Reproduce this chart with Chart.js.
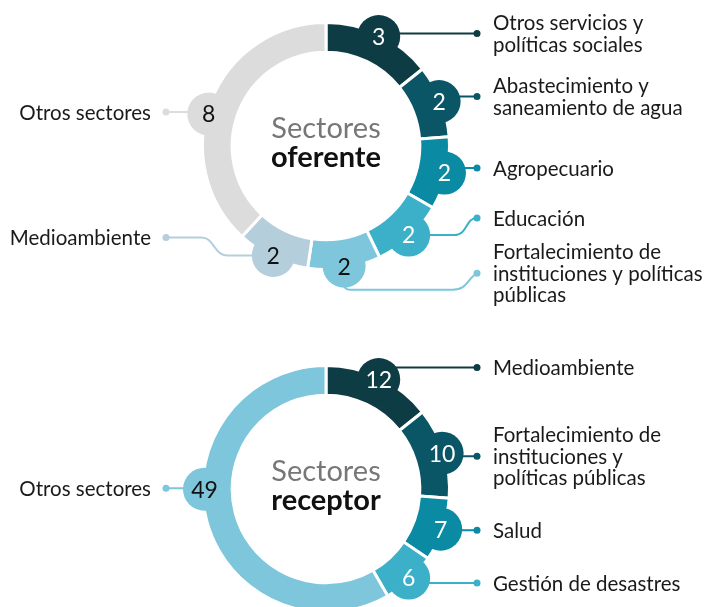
<!DOCTYPE html>
<html>
<head>
<meta charset="utf-8">
<script src="https://cdn.jsdelivr.net/npm/chart.js@4.4.0/dist/chart.umd.min.js"></script>
<style>
    html, body { margin: 0; padding: 0; background: #fff; overflow: hidden; }
    #wrap { position: relative; width: 709px; height: 607px; overflow: hidden; }
    #wrap canvas { position: absolute; left: 0; }
    #topChart { top: 0; }
    #bottomChart { top: 310px; }
</style>
</head>
<body>
<div id="wrap">
    <canvas id="topChart" width="709" height="310"></canvas>
    <canvas id="bottomChart" width="709" height="320"></canvas>
</div>
<script>
// Sectores oferente (clockwise from the top)
const offerSectors = [
    ['Otros servicios y', 'políticas sociales'],
    ['Abastecimiento y', 'saneamiento de agua'],
    ['Agropecuario'],
    ['Educación'],
    ['Fortalecimiento de', 'instituciones y políticas', 'públicas'],
    ['Medioambiente'],
    ['Otros sectores']
];
const offerValues = [3, 2, 2, 2, 2, 2, 8];

// Sectores receptor
const receiverSectors = [
    ['Medioambiente'],
    ['Fortalecimiento de', 'instituciones y', 'políticas públicas'],
    ['Salud'],
    ['Gestión de desastres'],
    ['Otros sectores']
];
const receiverValues = [12, 10, 7, 6, 49];

const offerColors = ['#0d3c44', '#0a5667', '#0a8aa3', '#3cafc9', '#7ec6db', '#b4cfdb', '#dcdcdc'];
const offerTextColors = ['#fff', '#fff', '#fff', '#fff', '#111', '#111', '#111'];
const receiverColors = ['#0d3c44', '#0a5667', '#0a8aa3', '#3cafc9', '#7ec6db'];
const receiverTextColors = ['#fff', '#fff', '#fff', '#fff', '#111'];

const FONT = 'Lato, "Open Sans", sans-serif';
const DOT_RIGHT = 477, DOT_LEFT = 166;
const TEXT_RIGHT = 493, TEXT_LEFT = 151;
const BUBBLE_R = 21.5;

// Bubbles with values, leader lines and sector names around the ring
const bubblePlugin = {
    id: 'bubbles',
    afterDatasetsDraw(chart, args, opts) {
        const ctx = chart.ctx;
        const meta = chart.getDatasetMeta(0);
        const ds = chart.data.datasets[0];
        const items = meta.data.map((arc, i) => {
            const p = arc.getProps(['x', 'y', 'startAngle', 'endAngle', 'outerRadius'], true);
            const a = p.startAngle + (p.endAngle - p.startAngle) * opts.anchor[i];
            const r = p.outerRadius - 2;
            const bx = p.x + Math.cos(a) * r;
            const by = p.y + Math.sin(a) * r;
            const right = bx > p.x;
            return {
                bx, by, right,
                dotX: right ? DOT_RIGHT : DOT_LEFT,
                dotY: by + opts.shift[i],
                route: opts.route[i],
                color: ds.backgroundColor[i]
            };
        });

        // leader lines
        ctx.save();
        ctx.lineWidth = 2;
        items.forEach(it => {
            ctx.strokeStyle = it.color;
            ctx.fillStyle = it.color;
            ctx.beginPath();
            const dir = it.right ? 1 : -1;
            if (it.route === 'bend') {
                const x0 = it.bx + dir * (BUBBLE_R + 24);
                let x1 = x0 + dir * 26;
                if (dir * (x1 - it.dotX) > 0) x1 = it.dotX;
                ctx.moveTo(it.bx, it.by);
                ctx.lineTo(x0, it.by);
                ctx.bezierCurveTo(x0 + dir * 14, it.by, x1 - dir * 12, it.dotY, x1, it.dotY);
                ctx.lineTo(it.dotX, it.dotY);
            } else if (it.route === 'under') {
                const yLow = it.by + BUBBLE_R + 2;
                const x0 = it.dotX - 24;
                ctx.moveTo(it.bx, it.by);
                ctx.lineTo(it.bx, yLow - 6);
                ctx.quadraticCurveTo(it.bx, yLow, it.bx + 6, yLow);
                ctx.lineTo(x0, yLow);
                ctx.bezierCurveTo(x0 + 14, yLow, it.dotX - 10, it.dotY + 6, it.dotX, it.dotY);
            } else {
                ctx.moveTo(it.bx, it.dotY);
                ctx.lineTo(it.dotX, it.dotY);
            }
            ctx.stroke();
            ctx.beginPath();
            ctx.arc(it.dotX, it.dotY, 3.5, 0, Math.PI * 2);
            ctx.fill();
        });

        // bubbles and values
        ctx.font = '23px ' + FONT;
        ctx.textAlign = 'center';
        ctx.textBaseline = 'middle';
        items.forEach((it, i) => {
            ctx.fillStyle = it.color;
            ctx.beginPath();
            ctx.arc(it.bx, it.by, BUBBLE_R, 0, Math.PI * 2);
            ctx.fill();
            ctx.fillStyle = opts.textColors[i];
            ctx.fillText(String(ds.data[i]), it.bx, it.by + 1);
        });

        // sector names
        ctx.font = '20.5px ' + FONT;
        ctx.fillStyle = '#1a1a1a';
        items.forEach((it, i) => {
            const lines = chart.data.labels[i];
            const lh = 21.5;
            const y0 = it.dotY - (lines.length - 1) * lh / 2;
            ctx.textAlign = it.right ? 'left' : 'right';
            lines.forEach((line, k) => {
                ctx.fillText(line, it.right ? TEXT_RIGHT : TEXT_LEFT, y0 + k * lh + 1);
            });
        });

        // centre title
        const c = meta.data[0];
        ctx.textAlign = 'center';
        ctx.textBaseline = 'alphabetic';
        ctx.fillStyle = '#777';
        ctx.font = '29px ' + FONT;
        ctx.fillText('Sectores', c.x, c.y - 8);
        ctx.fillStyle = '#111';
        ctx.font = 'bold 29px ' + FONT;
        ctx.fillText(opts.title, c.x, c.y + 21);
        ctx.restore();
    }
};

function makeRing(canvasId, labels, values, colors, padding, bubbles) {
    return new Chart(document.getElementById(canvasId), {
        type: 'doughnut',
        data: {
            labels: labels,
            datasets: [{
                data: values,
                backgroundColor: colors,
                borderColor: '#fff',
                borderWidth: 3
            }]
        },
        options: {
            responsive: false,
            animation: false,
            events: [],
            cutout: '76%',
            layout: { padding: padding },
            plugins: {
                legend: { display: false },
                tooltip: { enabled: false },
                bubbles: bubbles
            }
        },
        plugins: [bubblePlugin]
    });
}

makeRing('topChart', offerSectors, offerValues, offerColors,
    { left: 201, right: 258, top: 21, bottom: 39 },
    {
        title: 'oferente',
        textColors: offerTextColors,
        anchor: [0.5, 0.5, 0.5, 0.5, 0.5, 0.5, 0.455],
        shift: [-3, -5, -5, -17, 7, -18, -2],
        route: ['line', 'line', 'line', 'bend', 'under', 'bend', 'line']
    });

makeRing('bottomChart', receiverSectors, receiverValues, receiverColors,
    { left: 201, right: 258, top: 54, bottom: 16 },
    {
        title: 'receptor',
        textColors: receiverTextColors,
        anchor: [0.5, 0.5, 0.5, 0.5, 0.571],
        shift: [-12, 3, 1, 5, -1],
        route: ['line', 'line', 'line', 'line', 'line']
    });
</script>
</body>
</html>
